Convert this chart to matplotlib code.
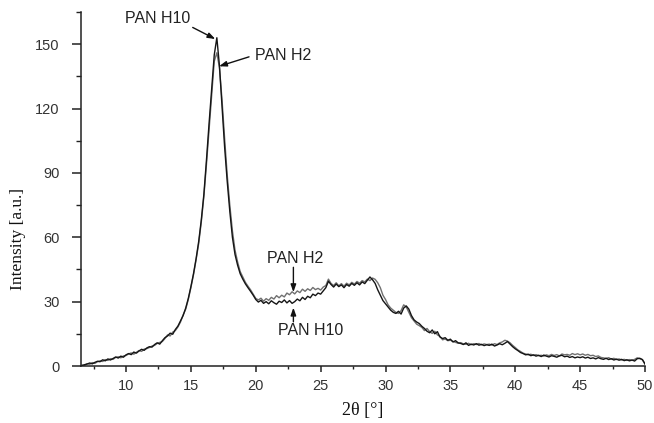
import numpy as np
import matplotlib
matplotlib.use("Agg")
import matplotlib.pyplot as plt
from matplotlib.ticker import MultipleLocator

# ---- data ----
two_theta = np.round(np.arange(6.6, 50.0001, 0.2), 1)

pan_h10 = [
    0.2, 0.6,
    0.9, 1.4, 1.0, 1.7, 2.2,
    2.0, 2.9, 2.4, 3.3, 2.8,
    3.5, 4.2, 3.7, 4.6, 4.1,
    5.2, 5.8, 5.3, 6.5, 6.0,
    7.0, 7.8, 7.3, 8.4, 9.0,
    8.8, 10.0, 10.8, 10.2, 11.8,
    13.2, 14.0, 15.3, 14.8, 17.0,
    18.6, 21.0, 23.5, 27.0, 31.5,
    37.0, 43.0, 50.0, 58.0, 68.0,
    80.0, 96.0, 113.0, 129.0, 145.0,
    153.0, 140.0, 121.0, 102.0, 86.0,
    72.0, 60.0, 52.0, 47.0, 43.0,
    40.5, 38.3, 36.5, 34.8, 33.0,
    31.0, 29.8, 30.6, 29.2, 30.0,
    29.0, 30.4, 29.5, 28.8, 30.2,
    29.6, 30.8, 29.4, 30.5, 29.2,
    30.0, 31.2, 30.4, 32.0, 31.0,
    32.5, 31.8, 33.5, 32.8, 34.0,
    33.5, 35.0, 36.5, 39.5, 38.0,
    36.8, 38.2, 37.0, 37.8, 36.5,
    38.0, 37.2, 38.5, 37.6, 38.8,
    37.8, 39.2, 38.4, 40.0, 41.5,
    40.2, 38.5, 35.5, 33.0, 30.5,
    29.0, 27.5, 26.0, 25.0, 24.5,
    25.5, 24.2, 27.0, 28.0, 26.5,
    23.5, 21.5, 20.5, 19.8, 18.5,
    17.5, 16.2, 15.5, 16.8, 15.0,
    16.0, 13.5, 12.8, 13.2, 12.0,
    12.5, 11.2, 11.8, 10.8, 10.5,
    10.0, 10.8, 9.6, 10.2, 9.8,
    10.4, 9.7, 10.1, 9.5, 9.9,
    9.6, 10.2, 9.3, 9.8, 10.4,
    9.9, 10.6, 11.4, 10.2, 9.0,
    8.0, 7.2, 6.3, 5.8, 5.2,
    5.5, 4.8, 5.2, 4.6, 5.0,
    4.4, 5.1, 4.6, 4.2, 4.8,
    4.5, 4.1, 4.7, 5.0, 4.3,
    4.6, 4.0, 4.4, 3.8, 4.2,
    3.9, 4.3, 3.7, 4.1, 3.5,
    3.8, 3.3, 3.9, 3.4, 3.1,
    3.6, 3.0, 3.4, 2.8, 3.2,
    2.7, 3.1, 2.5, 2.9, 2.4,
    2.8, 2.3, 3.4, 3.6, 3.0,
    1.0,
]

pan_h2 = [
    0.4, 0.3,
    1.1, 0.8, 1.6, 1.2, 2.0,
    2.4, 2.1, 3.0, 2.6, 3.4,
    3.1, 4.0, 4.3, 3.8, 4.7,
    4.9, 5.6, 6.1, 5.5, 6.4,
    7.2, 6.8, 7.9, 8.1, 8.6,
    9.3, 9.6, 10.5, 11.0, 11.4,
    12.8, 14.5, 14.0, 15.8, 16.5,
    18.2, 20.5, 23.8, 26.5, 31.0,
    36.5, 42.5, 49.5, 57.0, 67.0,
    79.0, 94.0, 110.0, 126.0, 142.0,
    146.0, 139.0, 124.0, 106.0, 89.0,
    75.0, 63.0, 54.0, 48.5, 44.0,
    41.5, 39.0, 37.2, 35.5, 33.5,
    31.5, 30.8, 31.6, 30.2, 31.4,
    30.6, 32.0, 31.2, 32.8, 31.8,
    33.0, 32.2, 34.0, 33.2, 34.6,
    33.6, 35.0, 34.2, 35.8, 34.8,
    36.0, 35.2, 36.6, 35.6, 36.2,
    35.4, 36.8, 37.5, 40.5, 38.5,
    37.5, 38.8, 37.4, 38.4, 37.2,
    38.6, 37.8, 39.0, 38.2, 39.4,
    38.6, 39.8, 39.2, 40.5, 39.8,
    41.0, 40.4, 38.8, 36.5, 33.0,
    31.0, 28.5, 27.0, 26.0, 25.0,
    24.5, 25.8, 28.5, 27.5, 25.0,
    22.5, 21.0, 19.5, 18.8, 18.0,
    16.5, 17.5, 16.0, 15.2, 16.2,
    14.5, 13.8, 12.2, 12.6, 11.8,
    12.0, 11.5, 11.0, 10.6, 10.9,
    10.3, 10.1, 10.6, 9.9, 10.4,
    10.0, 10.5, 9.8, 10.3, 10.0,
    10.2, 9.7, 10.4, 10.0, 10.8,
    11.2, 12.0, 11.6, 10.8, 9.6,
    8.6, 7.5, 6.8, 6.0, 5.6,
    5.2, 5.5, 4.9, 5.3, 4.8,
    5.0, 4.6, 5.2, 4.8, 5.4,
    4.9, 5.3, 4.7, 5.6, 5.2,
    5.4, 5.0, 5.8, 5.3, 5.7,
    5.2, 5.6, 5.0, 5.4, 4.8,
    5.0, 4.4, 4.7, 4.0, 3.8,
    3.5, 3.9, 3.2, 3.6, 3.0,
    3.3, 2.8, 3.1, 2.6, 3.0,
    2.6, 3.1, 3.8, 3.4, 2.9,
    0.8,
]

x_ticks = [10, 15, 20, 25, 30, 35, 40, 45, 50]
y_ticks = [0, 30, 60, 90, 120, 150]
x_label = "2θ [°]"
y_label = "Intensity [a.u.]"

# annotations: (text, text position, arrow start, arrow tip)
annotations = [
    ("PAN H10", (12.45, 162.0), (15.14, 157.8), (16.88, 152.4)),
    ("PAN H2", (22.1, 144.9), (19.48, 144.1), (17.17, 139.7)),
    ("PAN H2", (23.05, 50.0), (22.9, 46.0), (22.9, 34.4)),
    ("PAN H10", (24.25, 16.6), (22.9, 20.6), (22.9, 27.2)),
]

# ---- figure ----
plt.rcParams['font.family'] = ['Liberation Sans', 'DejaVu Sans']
fig = plt.figure(figsize=(6.54, 4.23), dpi=100)
ax = fig.add_axes([81/654, 57/423, 564/654, 354/423])

ax.plot(two_theta, pan_h2, color='#707070', lw=1.0)
ax.plot(two_theta, pan_h10, color='#151515', lw=1.0)

ax.set_xlim(6.53, 50)
ax.set_ylim(0, 165)
ax.set_xticks(x_ticks)
ax.set_yticks(y_ticks)
ax.xaxis.set_minor_locator(MultipleLocator(2.5))
ax.yaxis.set_minor_locator(MultipleLocator(15))

for s in ['top', 'right']:
    ax.spines[s].set_visible(False)
for s in ['left', 'bottom']:
    ax.spines[s].set_linewidth(1.1)
    ax.spines[s].set_color('#222222')

ax.tick_params(axis='x', which='major', length=4.5, width=1.1, pad=4.5,
               labelsize=10.5, colors='#222222', labelcolor='#333333')
ax.tick_params(axis='x', which='minor', length=2.5, width=1.0, colors='#222222')
ax.tick_params(axis='y', which='major', length=6.5, width=1.1, pad=9,
               labelsize=10.5, colors='#222222', labelcolor='#333333')
ax.tick_params(axis='y', which='minor', length=3.6, width=1.0, colors='#222222')

fig.text(363/654, 1 - 410/423, x_label, ha='center', va='center',
         fontsize=13, family=['Liberation Serif', 'DejaVu Serif'], color='#111111')
fig.text(18/654, 1 - 239/423, y_label, ha='center', va='center', rotation=90,
         fontsize=12.5, family=['Liberation Serif', 'DejaVu Serif'], color='#111111')

for txt, tpos, start, tip in annotations:
    ax.text(tpos[0], tpos[1], txt, ha='center', va='center', fontsize=11.5,
            color='#222222')
    ax.annotate('', xy=tip, xytext=start,
                arrowprops=dict(arrowstyle='-|>,head_length=0.45,head_width=0.16',
                                color='#111111', lw=1.0, shrinkA=0, shrinkB=0))

fig.savefig('out.png', dpi=100)
